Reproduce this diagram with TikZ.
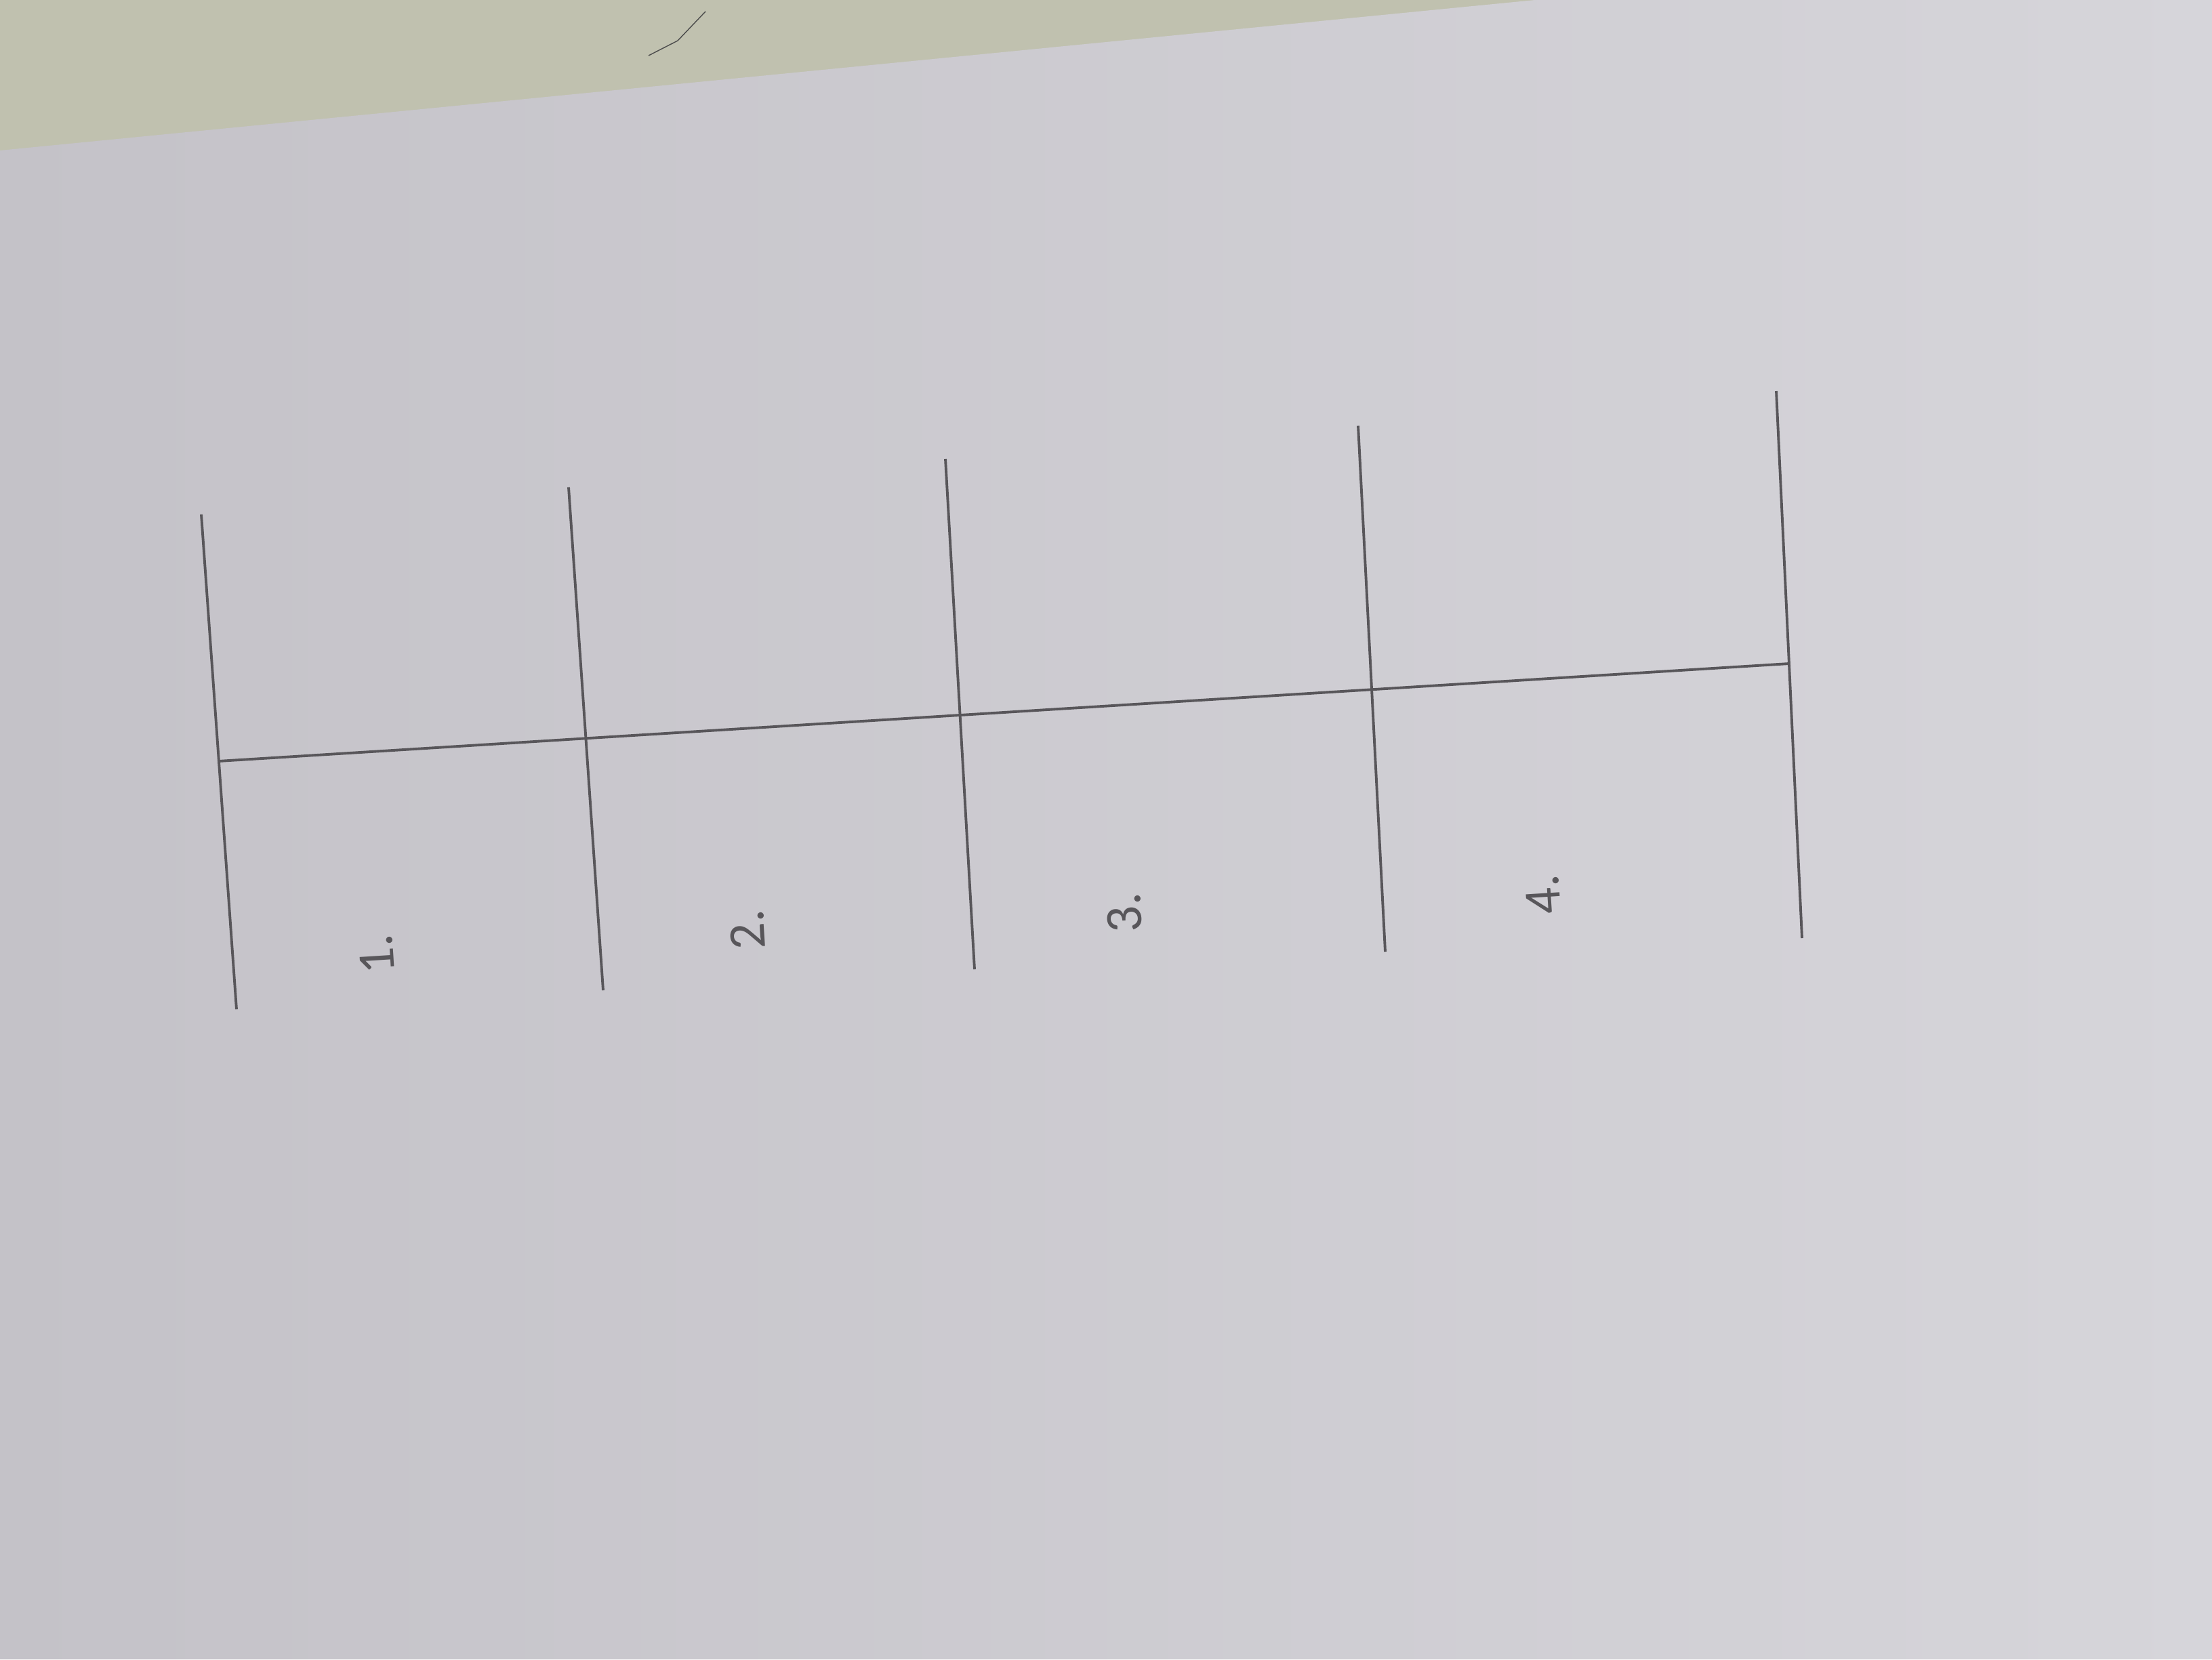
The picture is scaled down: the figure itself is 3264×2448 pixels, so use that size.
\documentclass[tikz,border=0pt]{standalone}
\usepackage{fontspec}
\setmainfont{Carlito}
\definecolor{tablecol}{RGB}{192,193,175}
\definecolor{paperL}{RGB}{196,194,200}
\definecolor{paperR}{RGB}{214,213,218}
\definecolor{inkcol}{RGB}{88,86,90}
\tikzset{
  ruleline/.style={draw=inkcol, line width=1.1pt},
  numlabel/.style={text=inkcol, font=\fontsize{22}{26}\selectfont, rotate=93.6, inner sep=0pt}
}
\begin{document}
\begin{tikzpicture}[x=0.01cm,y=-0.01cm]
\useasboundingbox (0,0) rectangle (3264,2448);
% table
\fill[tablecol] (0,0) rectangle (3264,2448);
\draw[black!70, line width=0.4pt] (1041,17) -- (1000,60) -- (957,82);
% paper
\shade[left color=paperL, right color=paperR] (0,222) -- (2265,0) -- (3264,0) -- (3264,2448) -- (0,2448) -- cycle;
% coordinates
\coordinate (hL) at (322,1123);
\coordinate (hR) at (2640,979);
\coordinate (v1t) at (297,759);
\coordinate (v1b) at (349,1489);
\coordinate (v2t) at (839,719);
\coordinate (v2b) at (890,1461);
\coordinate (v3t) at (1395,677);
\coordinate (v3b) at (1438,1430);
\coordinate (v4t) at (2004,628);
\coordinate (v4b) at (2044,1404);
\coordinate (v5t) at (2621,577);
\coordinate (v5b) at (2659,1384);
% lines
\draw[ruleline] (hL) -- (hR);
\draw[ruleline] (v1t) -- (v1b);
\draw[ruleline] (v2t) -- (v2b);
\draw[ruleline] (v3t) -- (v3b);
\draw[ruleline] (v4t) -- (v4b);
\draw[ruleline] (v5t) -- (v5b);
% labels
\node[numlabel] (l1) at (556,1408) {1.};
\node[numlabel] (l2) at (1103,1372) {2.};
\node[numlabel] (l3) at (1659,1347) {3.};
\node[numlabel] (l4) at (2277,1320) {4.};
\end{tikzpicture}
\end{document}
